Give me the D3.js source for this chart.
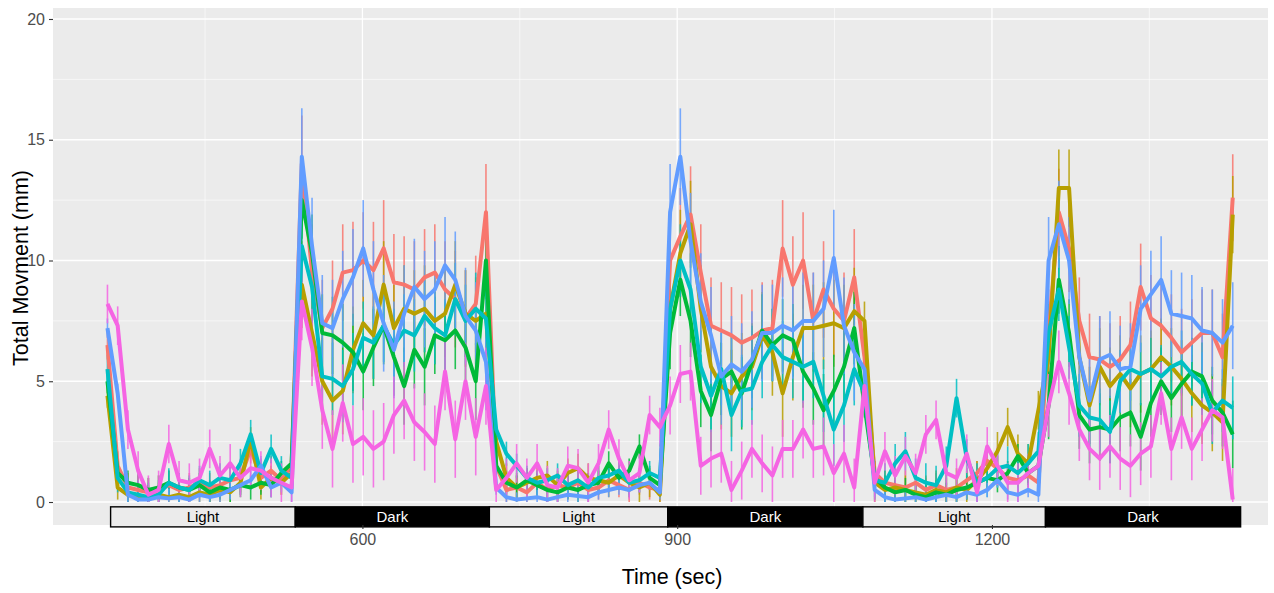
<!DOCTYPE html>
<html>
<head>
<meta charset="utf-8">
<script src="https://cdn.jsdelivr.net/npm/d3@7"></script>
<style>
  body { margin: 0; background: #ffffff; }
  #chart { width: 1274px; height: 593px; }
  text { font-family: "Liberation Sans", Arial, sans-serif; }
</style>
</head>
<body>
<div id="chart"></div>
<script>
// sampling times (sec), one sample every 9.75 s
const sampleTimes = d3.range(111).map(i => 357 + i * 9.75);

const groupNames  = ["G1", "G2", "G3", "G4", "G5", "G6"];
const groupColors = ["#F8766D", "#B79F00", "#00BA38", "#00BFC4", "#619CFF", "#F564E3"];

// mean movement per sample (mm)
const movG1 = [
  6.5, 1.5, 0.6, 0.5, 0.4, 0.5, 0.7, 0.5, 0.6, 0.8, 0.6, 0.7, 0.9, 1.0, 2.2, 1.0, 1.3, 0.9, 1.5,
  14.0, 9.5, 7.2, 8.0, 9.5, 9.6, 10.0, 9.6, 10.5, 9.1, 9.0, 8.8, 9.3, 9.5, 8.8, 8.4, 7.6, 8.2, 12.0,
  1.5, 0.5, 0.6, 0.4, 0.8, 0.5, 0.7, 0.6, 0.8, 0.5, 0.6, 0.9, 0.7, 0.5, 0.8, 0.6, 0.5,
  10.0, 11.0, 11.9, 9.5, 7.3, 7.1, 6.9, 6.6, 6.8, 7.1, 7.2, 10.5, 9.0, 10.0, 7.5, 8.8, 8.0, 7.5, 9.3,
  6.0, 1.2, 0.8, 0.7, 0.6, 0.8, 0.5, 0.7, 0.5, 0.6, 0.9, 1.2, 1.7, 1.4, 1.0, 0.9, 1.1, 0.8,
  7.0, 12.0, 10.5, 7.5, 6.0, 5.9, 5.6, 5.9, 6.5, 8.9, 7.6, 7.3, 6.8, 6.2, 6.6, 7.0, 7.0, 6.0, 12.6
];
const movG2 = [
  4.4, 0.6, 0.3, 0.2, 0.2, 0.3, 0.2, 0.3, 0.2, 0.4, 0.3, 0.5, 0.4, 0.8, 2.6, 0.6, 1.0, 0.8, 1.2,
  9.0, 7.0, 5.0, 4.2, 4.6, 6.3, 7.4, 6.9, 9.0, 7.2, 8.0, 7.8, 8.0, 7.5, 7.8, 9.0, 7.8, 7.5, 7.8,
  2.5, 1.0, 0.6, 0.8, 1.0, 1.1, 0.7, 1.2, 1.4, 1.0, 0.9, 0.8, 1.1, 0.8, 0.6, 0.8, 0.3,
  8.0, 10.3, 11.5, 8.0, 5.6, 4.8, 4.5, 5.2, 5.6, 6.9, 6.2, 4.5, 6.0, 7.2, 7.2, 7.3, 7.4, 7.2, 7.9,
  7.5, 0.8, 0.5, 0.6, 0.5, 0.4, 0.3, 0.5, 0.4, 0.6, 0.5, 0.9, 1.4, 2.1, 3.1, 2.0, 1.6, 3.8,
  6.0, 13.0, 13.0, 6.0, 4.0, 5.6, 4.8, 5.3, 4.7, 5.3, 5.5, 6.0, 5.6, 5.1, 4.5, 4.0, 3.7, 3.3, 11.9
];
const movG3 = [
  5.0, 1.2, 0.8, 0.7, 0.5, 0.6, 0.8, 0.6, 0.5, 0.7, 0.4, 0.6, 0.5, 0.7, 0.6, 0.8, 0.7, 1.2, 1.6,
  12.5, 10.3, 7.0, 6.9, 6.6, 6.2, 5.4, 6.4, 7.3, 6.0, 4.8, 6.3, 5.6, 6.9, 6.7, 7.1, 6.4, 5.0, 10.0,
  1.5, 0.8, 0.6, 0.9, 0.7, 0.5, 0.4, 0.6, 0.5, 0.7, 0.8, 1.6, 1.0, 1.3, 2.3, 1.0, 0.7,
  7.0, 9.2, 7.5, 4.6, 3.6, 5.1, 5.4, 4.5, 5.8, 7.1, 6.5, 6.9, 6.7, 5.4, 4.7, 3.8, 4.6, 5.6, 7.2,
  4.0, 1.0, 0.6, 0.4, 0.5, 0.3, 0.2, 0.4, 0.3, 0.5, 0.6, 0.8, 1.0, 0.9, 1.2, 1.9, 1.2, 1.5,
  4.0, 9.2, 7.0, 3.6, 3.0, 3.1, 3.0, 3.5, 3.7, 2.7, 4.1, 5.0, 4.3, 4.9, 5.4, 5.2, 4.2, 3.7, 2.8
];
const movG4 = [
  5.5, 1.0, 0.4, 0.3, 0.2, 0.3, 0.8, 0.6, 0.5, 0.9, 0.7, 1.0, 0.9, 1.6, 2.8, 1.2, 2.2, 1.3, 1.0,
  10.6, 8.9, 5.2, 5.1, 4.8, 5.5, 6.8, 6.6, 7.3, 6.5, 7.1, 6.9, 7.7, 7.2, 6.9, 8.4, 7.5, 8.0, 7.6,
  3.0, 2.0, 1.5, 1.0, 0.8, 0.9, 1.1, 0.7, 0.9, 0.6, 1.0, 1.1, 1.3, 0.8, 0.9, 1.2, 1.0,
  8.0, 10.0, 8.8, 5.6, 4.4, 5.5, 3.6, 4.6, 4.7, 5.8, 6.5, 6.0, 5.8, 5.6, 5.8, 4.4, 3.0, 4.0, 5.5,
  4.5, 0.9, 0.8, 1.6, 2.1, 1.0, 0.8, 0.7, 1.5, 4.3, 1.8, 0.8, 1.0, 1.4, 1.5, 1.2, 1.6, 2.1,
  7.0, 8.8, 6.4, 4.0, 3.5, 3.4, 2.9, 5.0, 5.5, 5.3, 5.5, 5.2, 5.6, 5.8, 5.3, 4.9, 3.7, 4.2, 3.9
];
const movG5 = [
  7.2, 4.5, 0.3, 0.1, 0.1, 0.2, 0.15, 0.2, 0.1, 0.3, 0.2, 0.3, 0.5, 0.7, 0.9, 1.5, 0.6, 0.8, 0.4,
  14.3, 10.6, 7.4, 7.2, 8.4, 9.3, 10.5, 8.8, 7.4, 6.3, 7.8, 8.9, 8.4, 8.8, 9.8, 9.2, 7.7, 7.1, 5.8,
  0.6, 0.2, 0.1, 0.15, 0.2, 0.1, 0.2, 0.3, 0.25, 0.2, 0.4, 0.5, 0.6, 0.5, 0.7, 0.8, 0.4,
  12.0, 14.3, 10.8, 8.3, 6.9, 5.2, 5.7, 5.4, 5.9, 7.0, 7.0, 7.3, 7.1, 7.5, 7.5, 8.0, 10.1, 7.3, 6.2,
  5.5, 0.5, 0.2, 0.1, 0.15, 0.2, 0.1, 0.2, 0.3, 0.2, 0.4, 0.3, 0.5, 0.9, 0.4, 0.3, 0.5, 0.3,
  10.0, 11.5, 10.0, 6.0, 4.2, 5.9, 6.1, 5.5, 5.6, 8.0, 8.6, 9.2, 7.8, 7.7, 7.6, 7.1, 7.0, 6.6, 7.3
];
const movG6 = [
  8.2, 7.3, 3.0, 1.3, 0.3, 0.5, 2.4, 0.9, 0.8, 1.0, 2.2, 1.1, 1.6, 1.0, 1.4, 1.3, 1.0, 0.8, 0.6,
  8.3, 6.4, 3.8, 2.2, 4.1, 2.4, 2.7, 2.2, 2.5, 3.6, 4.2, 3.3, 2.9, 2.4, 5.4, 2.6, 5.0, 2.7, 4.8,
  0.5, 1.0, 1.6, 1.0, 1.6, 0.7, 0.6, 1.5, 1.4, 0.8, 1.6, 3.0, 1.8, 0.9, 1.2, 3.6, 3.1,
  4.0, 5.3, 5.4, 1.5, 1.8, 2.0, 0.5, 1.3, 2.2, 1.6, 1.1, 2.2, 2.2, 3.0, 2.2, 2.3, 1.2, 2.0, 0.6,
  4.8, 0.8, 2.1, 1.1, 1.9, 1.2, 2.8, 3.4, 1.2, 1.0, 2.0, 0.4, 2.3, 1.5, 0.8, 0.8, 1.2, 1.5,
  4.0, 5.8, 4.5, 3.0, 2.2, 1.8, 2.3, 1.8, 1.5, 2.0, 2.3, 4.5, 2.2, 3.5, 2.2, 3.0, 3.8, 3.5, 0.1
];

// typical error bar half-length per phase (Light, Dark, Light, Dark, Light, Dark)
const errG1 = [0.6, 2.0, 0.5, 2.0, 0.5, 1.8];
const errG2 = [0.5, 1.8, 0.6, 1.8, 0.8, 1.6];
const errG3 = [0.5, 1.6, 0.5, 1.5, 0.5, 1.4];
const errG4 = [0.6, 1.5, 0.5, 1.5, 0.8, 1.3];
const errG5 = [0.4, 2.0, 0.3, 2.0, 0.3, 1.8];
const errG6 = [0.8, 1.6, 0.8, 1.2, 0.8, 1.3];

// light / dark phases (sec)
const phaseBounds = [360, 536, 721, 891, 1077, 1251, 1437];
const phaseLabels = ["Light", "Dark", "Light", "Dark", "Light", "Dark"];

const xMajorTicks = [600, 900, 1200];
const xMinorTicks = [450, 750, 1050, 1350];
const yMajorTicks = [0, 5, 10, 15, 20];
const yMinorTicks = [2.5, 7.5, 12.5, 17.5];


class MovementChart
{
  constructor(iHostElement)
  {
    this.width  = 1274;
    this.height = 593;
    this.panel = {left: 53, right: 1268, top: 8, bottom: 525};

    this.svg = d3.select(iHostElement)
      .append("svg")
      .attr("width", this.width)
      .attr("height", this.height);

    this.x = d3.scaleLinear().domain([305.1, 1463.1]).range([this.panel.left, this.panel.right]);
    this.y = d3.scaleLinear().domain([-0.952, 20.455]).range([this.panel.bottom, this.panel.top]);
  }

  drawPanel()
  {
    const p = this.panel;
    this.svg.append("rect")
      .attr("x", p.left).attr("y", p.top)
      .attr("width", p.right - p.left).attr("height", p.bottom - p.top)
      .attr("fill", "#EBEBEB");

    let grid = this.svg.append("g").attr("class", "grid").attr("stroke", "#ffffff");

    grid.selectAll(".ymin").data(yMinorTicks).enter().append("line")
      .attr("x1", p.left).attr("x2", p.right)
      .attr("y1", d => this.y(d)).attr("y2", d => this.y(d))
      .attr("stroke-width", 0.6);
    grid.selectAll(".xmin").data(xMinorTicks).enter().append("line")
      .attr("y1", p.top).attr("y2", p.bottom)
      .attr("x1", d => this.x(d)).attr("x2", d => this.x(d))
      .attr("stroke-width", 0.6);
    grid.selectAll(".ymaj").data(yMajorTicks).enter().append("line")
      .attr("x1", p.left).attr("x2", p.right)
      .attr("y1", d => this.y(d)).attr("y2", d => this.y(d))
      .attr("stroke-width", 1.3);
    grid.selectAll(".xmaj").data(xMajorTicks).enter().append("line")
      .attr("y1", p.top).attr("y2", p.bottom)
      .attr("x1", d => this.x(d)).attr("x2", d => this.x(d))
      .attr("stroke-width", 1.3);
  }

  drawAxes()
  {
    const p = this.panel;

    let xAxis = d3.axisBottom(this.x).tickValues(xMajorTicks).tickFormat(d3.format("d")).tickSize(4).tickPadding(5);
    let gx = this.svg.append("g")
      .attr("transform", `translate(0,${p.bottom})`)
      .call(xAxis);

    let yAxis = d3.axisLeft(this.y).tickValues(yMajorTicks).tickFormat(d3.format("d")).tickSize(4).tickPadding(4);
    let gy = this.svg.append("g")
      .attr("transform", `translate(${p.left},0)`)
      .call(yAxis);

    [gx, gy].forEach(g => {
      g.select(".domain").remove();
      g.selectAll(".tick line").attr("stroke", "#333333").attr("stroke-width", 1.1);
      g.selectAll(".tick text")
        .attr("fill", "#4D4D4D")
        .style("font-size", "16px")
        .style("font-family", "'Liberation Sans', Arial, sans-serif");
    });

    this.svg.append("text")
      .attr("x", 672).attr("y", 584)
      .attr("text-anchor", "middle")
      .style("font-size", "21.5px")
      .text("Time (sec)");

    this.svg.append("text")
      .attr("transform", "translate(28,268) rotate(-90)")
      .attr("text-anchor", "middle")
      .style("font-size", "21.5px")
      .text("Total Movment (mm)");
  }

  drawPhases()
  {
    let phases = phaseLabels.map((label, i) => ({label: label, start: phaseBounds[i], end: phaseBounds[i + 1]}));
    let g = this.svg.append("g").attr("class", "phases");
    let yTop = this.y(-0.2), yBot = this.y(-1.03);

    g.selectAll("rect").data(phases).enter().append("rect")
      .attr("x", d => this.x(d.start))
      .attr("width", d => this.x(d.end) - this.x(d.start))
      .attr("y", yTop)
      .attr("height", yBot - yTop)
      .attr("fill", d => d.label === "Dark" ? "#000000" : "#EBEBEB")
      .attr("stroke", "#000000")
      .attr("stroke-width", 1.4);

    g.selectAll("text").data(phases).enter().append("text")
      .attr("x", d => (this.x(d.start) + this.x(d.end)) / 2)
      .attr("y", (yTop + yBot) / 2)
      .attr("dy", "0.35em")
      .attr("text-anchor", "middle")
      .attr("fill", d => d.label === "Dark" ? "#ffffff" : "#000000")
      .style("font-size", "15px")
      .text(d => d.label);
  }

  drawSeries(iSeries)
  {
    let phaseOf = t => Math.max(0, Math.min(5, d3.bisectRight(phaseBounds, t) - 1));

    // error bars
    let eb = this.svg.append("g").attr("class", "errorbars");
    iSeries.forEach(s => {
      let pts = sampleTimes.map((t, i) => ({t: t, v: s.values[i], e: s.err[phaseOf(t)]}));
      eb.append("g").selectAll("line").data(pts).enter().append("line")
        .attr("x1", d => this.x(d.t)).attr("x2", d => this.x(d.t))
        .attr("y1", d => this.y(Math.max(0, d.v - d.e)))
        .attr("y2", d => this.y(d.v + d.e))
        .attr("stroke", s.color)
        .attr("stroke-width", 1.6)
        .attr("stroke-opacity", 0.85);
    });

    // mean lines
    let line = d3.line().x((d, i) => this.x(sampleTimes[i])).y(d => this.y(d));
    this.svg.append("g").attr("class", "lines")
      .selectAll("path").data(iSeries).enter().append("path")
      .attr("d", d => line(d.values))
      .attr("fill", "none")
      .attr("stroke", d => d.color)
      .attr("stroke-width", 4)
      .attr("stroke-linejoin", "round");
  }
}

let allValues = [movG1, movG2, movG3, movG4, movG5, movG6];
let allErr = [errG1, errG2, errG3, errG4, errG5, errG6];
let series = groupNames.map((name, i) => ({name: name, color: groupColors[i], values: allValues[i], err: allErr[i]}));

let chart = new MovementChart(document.getElementById("chart"));
chart.drawPanel();
chart.drawSeries(series);
chart.drawPhases();
chart.drawAxes();
</script>
</body>
</html>
